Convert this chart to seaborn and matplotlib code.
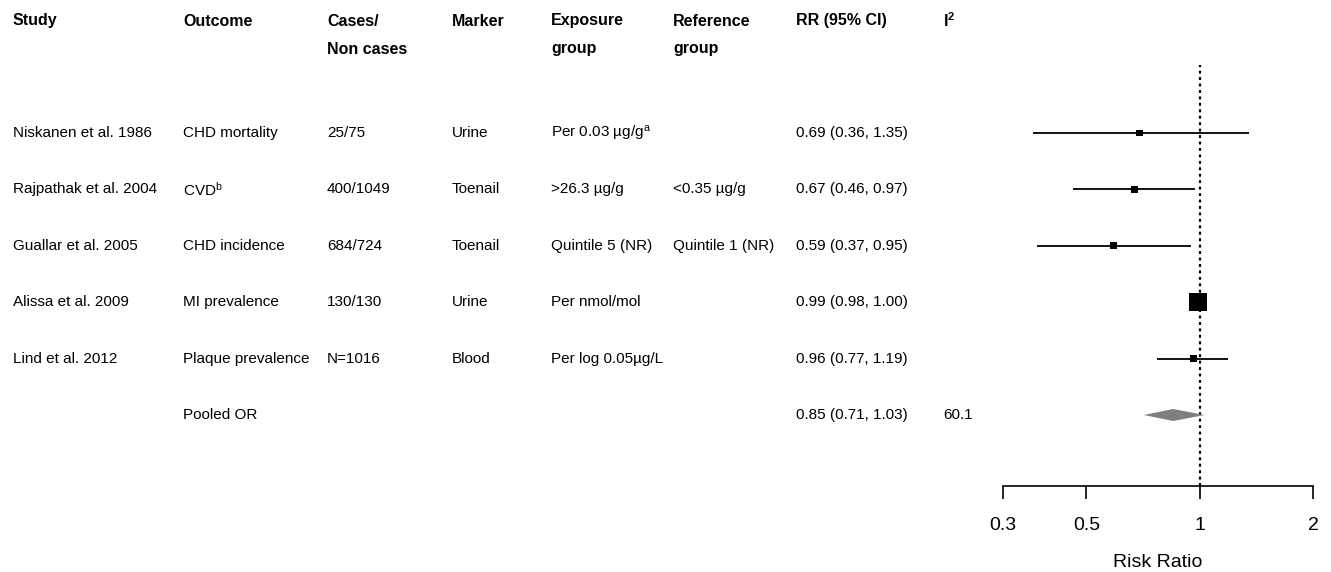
import matplotlib
matplotlib.use("Agg")
import matplotlib.pyplot as plt
import matplotlib.transforms as mtransforms
import seaborn as sns
import pandas as pd

# ---------------- data ----------------
studies = ["Niskanen et al. 1986", "Rajpathak et al. 2004", "Guallar et al. 2005",
           "Alissa et al. 2009", "Lind et al. 2012"]
outcomes = ["CHD mortality", r"CVD$^{\mathrm{b}}$", "CHD incidence", "MI prevalence",
            "Plaque prevalence"]
cases = ["25/75", "400/1049", "684/724", "130/130", "N=1016"]
markers = ["Urine", "Toenail", "Toenail", "Urine", "Blood"]
exposure = [r"Per 0.03 µg/g$^{\mathrm{a}}$", ">26.3 µg/g", "Quintile 5 (NR)",
            "Per nmol/mol", "Per log 0.05µg/L"]
reference = ["", "<0.35 µg/g", "Quintile 1 (NR)", "", ""]
rr = [0.69, 0.67, 0.59, 0.99, 0.96]
rr_lo = [0.36, 0.46, 0.37, 0.98, 0.77]
rr_hi = [1.35, 0.97, 0.95, 1.00, 1.19]
pooled_label = "Pooled OR"
pooled_rr, pooled_lo, pooled_hi = 0.85, 0.71, 1.03
pooled_i2 = "60.1"
headers_1 = ["Study", "Outcome", "Cases/", "Marker", "Exposure", "Reference", "RR (95% CI)", r"I$^{\mathbf{2}}$"]
headers_2 = ["", "", "Non cases", "", "group", "group", "", ""]
tick_values = [0.3, 0.5, 1, 2]
tick_labels = ["0.3", "0.5", "1", "2"]
x_label = "Risk Ratio"

# ---------------- style ----------------
sns.set_theme(style="white")
plt.rcParams["font.family"] = ["Liberation Sans", "DejaVu Sans"]
plt.rcParams["text.color"] = "black"
plt.rcParams["axes.labelcolor"] = "black"
plt.rcParams["xtick.color"] = "black"
plt.rcParams["mathtext.fontset"] = "custom"
plt.rcParams["mathtext.rm"] = "Liberation Sans"
plt.rcParams["mathtext.it"] = "Liberation Sans:italic"
plt.rcParams["mathtext.bf"] = "Liberation Sans:bold"

W, H = 1331, 572
fig = plt.figure(figsize=(W / 100, H / 100), dpi=100)

row0_px, row_step_px = 133, 56.4
ax_top_px, ax_bot_px = 65, 486
ax_left_px, ax_right_px = 1003, 1313
ax = fig.add_axes([ax_left_px / W, 1 - ax_bot_px / H,
                   (ax_right_px - ax_left_px) / W, (ax_bot_px - ax_top_px) / H])

n = len(studies)
rows = list(range(n))
pooled_row = n

df = pd.DataFrame({"study": studies, "rr": rr, "lo": rr_lo, "hi": rr_hi, "row": rows})

ax.set_xscale("log")
# confidence intervals
ax.hlines(df["row"], df["lo"], df["hi"], color="black", lw=1.3, zorder=2)
# boxes
box_area = [25, 25, 25, 169, 25]
sns.scatterplot(data=df, x="rr", y="row", size="study",
                sizes=dict(zip(studies, box_area)), marker="s", color="black",
                edgecolor="none", linewidth=0, legend=False, ax=ax, zorder=3)
# pooled diamond
h = 6 / row_step_px
ax.fill([pooled_lo, pooled_rr, pooled_hi, pooled_rr],
        [pooled_row, pooled_row - h, pooled_row, pooled_row + h],
        color="#7f7f7f", lw=0, zorder=3)
# reference line
ax.axvline(1, color="black", lw=1.6, linestyle=(0, (1.3, 1.6)), zorder=1)

ax.set_xlim(0.3, 2)
ax.set_ylim((ax_bot_px - row0_px) / row_step_px, (ax_top_px - row0_px) / row_step_px)
ax.set_xticks(tick_values)
ax.set_xticklabels(tick_labels)
ax.minorticks_off()
ax.set_yticks([])
ax.set_ylabel("")
ax.set_xlabel(x_label, fontsize=14, labelpad=14, color="black")
for s in ["left", "top", "right"]:
    ax.spines[s].set_visible(False)
ax.spines["bottom"].set_linewidth(1.2)
ax.spines["bottom"].set_color("black")
ax.tick_params(axis="x", which="major", direction="out", length=9.5, width=1.2,
               pad=13, labelsize=14, colors="black", bottom=True)
ax.patch.set_alpha(0)

# ---------------- table text ----------------
col_x = [13, 183, 327, 452, 551, 673, 796, 943]
trans = mtransforms.blended_transform_factory(fig.transFigure, ax.transData)
body_fs = 11
for i in range(n):
    vals = [studies[i], outcomes[i], cases[i], markers[i], exposure[i], reference[i],
            f"{rr[i]:.2f} ({rr_lo[i]:.2f}, {rr_hi[i]:.2f})", ""]
    for x, v in zip(col_x, vals):
        if v:
            fig.text(x / W, rows[i], v, transform=trans, ha="left", va="center",
                     fontsize=body_fs, color="black")
fig.text(col_x[1] / W, pooled_row, pooled_label, transform=trans, ha="left",
         va="center", fontsize=body_fs, color="black")
fig.text(col_x[6] / W, pooled_row, f"{pooled_rr:.2f} ({pooled_lo:.2f}, {pooled_hi:.2f})",
         transform=trans, ha="left", va="center", fontsize=body_fs, color="black")
fig.text(col_x[7] / W, pooled_row, pooled_i2, transform=trans, ha="left",
         va="center", fontsize=body_fs, color="black")

for x, t1, t2 in zip(col_x, headers_1, headers_2):
    fig.text(x / W, 1 - 21 / H, t1, ha="left", va="center", fontsize=11.5,
             fontweight="bold", color="black")
    if t2:
        fig.text(x / W, 1 - 49 / H, t2, ha="left", va="center", fontsize=11.5,
                 fontweight="bold", color="black")

fig.savefig("out.png", dpi=100, facecolor="white")
